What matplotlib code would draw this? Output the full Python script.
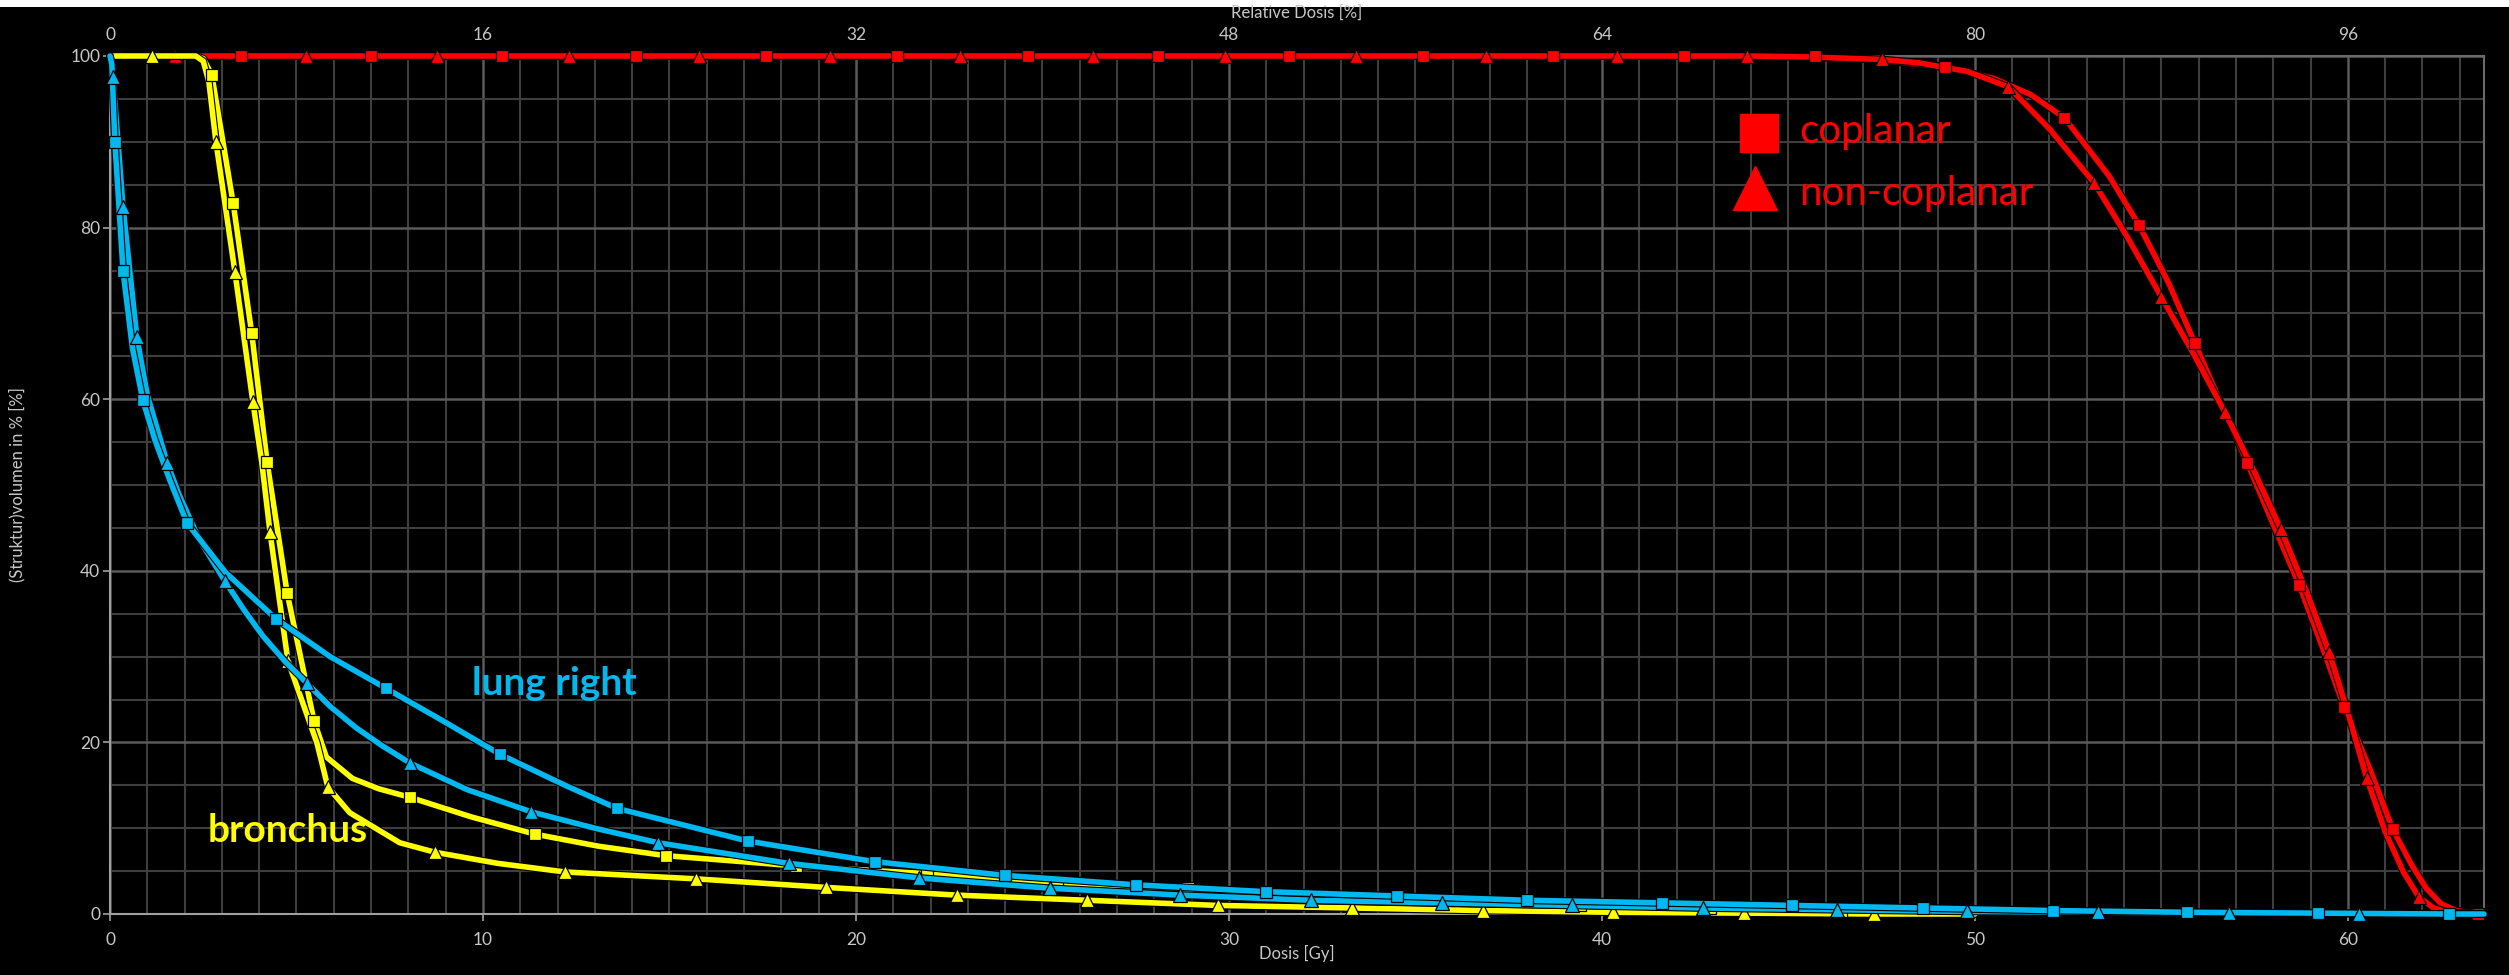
import numpy as np
import matplotlib
matplotlib.use("Agg")
import matplotlib.pyplot as plt
import matplotlib.patheffects as pe
from matplotlib.patches import Rectangle
from matplotlib.ticker import MultipleLocator

plt.rcParams['font.family'] = ['Lato', 'DejaVu Sans']

# ---- data (dose in Gy, volume in %) ----
prescription = 62.5  # Gy that equals 100 % relative dose

# PTV, coplanar (squares)
ptv_co_d = [0, 47.5, 50.5, 51.5, 53.6, 55.2, 56.6, 58.0, 59.3, 60.6, 61.7, 62.1, 62.5, 62.9]
ptv_co_v = [100, 99.5, 97.4, 95.5, 86.0, 73.5, 59.5, 45.4, 31.3, 16.8, 5.8, 3.0, 1.2, 0.4]
ptv_co_md = [3.5, 7.0, 10.5, 14.1, 17.6, 21.1, 24.6, 28.1, 31.6, 35.2, 38.7, 42.2, 45.7,
             49.2, 52.4, 54.4, 55.9, 57.3, 58.7, 59.9, 61.2, 63.5]
ptv_co_mv = [100, 100, 100, 100, 100, 100, 100, 100, 100, 100, 100, 100, 100,
             98.7, 92.8, 80.3, 66.5, 52.6, 38.3, 24.1, 9.9, 0]

# PTV, non-coplanar (triangles)
ptv_nc_d = [0, 45.5, 48.5, 49.8, 52.0, 54.1, 55.9, 57.5, 58.9, 60.0, 61.0, 61.5, 62.3, 62.7, 63.5]
ptv_nc_v = [100, 99.9, 99.2, 98.2, 91.5, 78.8, 65.0, 51.5, 37.5, 23.5, 9.6, 4.8, 0.7, 0.2, 0]
ptv_nc_md = [1.73, 5.25, 8.77, 12.3, 15.8, 19.3, 22.8, 26.35, 29.9, 33.4, 36.9, 40.4, 43.9,
             47.5, 50.9, 53.2, 55.0, 56.7, 58.2, 59.5, 60.5, 61.9]
ptv_nc_mv = [100, 100, 100, 100, 100, 100, 100, 100, 100, 100, 100, 100, 100,
             99.6, 96.4, 85.2, 71.9, 58.5, 44.9, 30.5, 15.9, 2.0]

# bronchus, coplanar
br_co_d = [0, 2.3, 2.5, 5.8, 6.5, 7.2, 9.7, 13.1, 49.9]
br_co_v = [100, 100, 99.7, 18.3, 15.8, 14.6, 11.3, 7.9, 0.0]
br_co_md = [2.73, 3.30, 3.80, 4.21, 4.75, 5.47, 8.04, 11.4, 14.9, 18.4, 21.9, 25.4, 28.9,
            32.4, 35.9, 39.4, 42.9, 46.4]
br_co_mv = [97.8, 82.9, 67.7, 52.7, 37.4, 22.5, 13.6, 9.3, 6.8, 5.6, 4.7, 3.6, 3.0,
            2.2, 1.6, 1.1, 0.7, 0.3]

# bronchus, non-coplanar
br_nc_d = [0, 2.3, 2.5, 2.65, 4.07, 5.55, 6.43, 7.77, 10.4, 50.0]
br_nc_v = [100, 100, 99.4, 97.0, 52.6, 19.9, 11.8, 8.3, 5.9, 0.0]
br_nc_md = [1.13, 2.84, 3.35, 3.83, 4.29, 4.77, 5.84, 8.71, 12.2, 15.7, 19.2, 22.7, 26.2,
            29.7, 33.3, 36.8, 40.3, 43.8, 47.3]
br_nc_mv = [100, 90.0, 74.8, 59.7, 44.5, 29.5, 14.8, 7.2, 4.9, 4.1, 3.1, 2.2, 1.6,
            1.0, 0.7, 0.4, 0.2, 0.1, 0.0]

# lung right, coplanar
lu_co_d = [0, 0.05, 0.6, 1.2, 1.6, 3.1, 5.9, 8.93, 12.25, 63.65]
lu_co_v = [100, 99.0, 66.0, 55.3, 50.6, 39.8, 30.0, 22.5, 14.9, 0.0]
lu_co_md = [0.13, 0.35, 0.88, 2.06, 4.45, 7.40, 10.46, 13.6, 17.1, 20.5, 24.0, 27.5, 31.0,
            34.5, 38.0, 41.6, 45.1, 48.6, 52.1, 55.7, 59.2, 62.7]
lu_co_mv = [90.0, 74.9, 59.9, 45.6, 34.4, 26.3, 18.6, 12.3, 8.5, 6.1, 4.5, 3.4, 2.6,
            2.1, 1.6, 1.3, 1.0, 0.7, 0.4, 0.2, 0.1, 0.0]

# lung right, non-coplanar
lu_nc_d = [0, 1.0, 1.85, 2.4, 3.6, 4.1, 4.7, 5.9, 6.6, 7.3, 9.57, 13.0, 63.65]
lu_nc_v = [100, 60.5, 48.9, 43.6, 35.4, 32.4, 29.4, 24.2, 21.7, 19.6, 14.5, 10.0, 0.0]
lu_nc_md = [0.08, 0.35, 0.72, 1.53, 3.08, 5.28, 8.04, 11.3, 14.7, 18.2, 21.7, 25.2, 28.7,
            32.2, 35.7, 39.2, 42.7, 46.3, 49.8, 53.3, 56.8, 60.3]
lu_nc_mv = [97.5, 82.4, 67.2, 52.6, 38.8, 26.9, 17.6, 11.9, 8.3, 5.9, 4.2, 3.0, 2.2,
            1.6, 1.3, 1.0, 0.7, 0.5, 0.3, 0.2, 0.1, 0.05]

RED = '#ff0000'
YELLOW = '#ffff00'
CYAN = '#00b8f0'
GRID = '#3e3e3e'
TXT = '#c8c8c8'


def draw_dvh(ax, cd, cv, md, mv, color, marker, ms, z):
    # line runs through shape points and marker points together
    d = np.concatenate([cd, md])
    v = np.concatenate([cv, mv])
    order = np.lexsort((-v, d))
    ax.plot(d[order], v[order], color=color, lw=4.0, zorder=z, clip_on=False,
            solid_joinstyle='round', solid_capstyle='round',
            path_effects=[pe.Stroke(linewidth=5.6, foreground='black'), pe.Normal()])
    ax.plot(md, mv, ls='none', marker=marker, ms=ms, mfc=color, mec='black',
            mew=0.9, zorder=z + 0.5, clip_on=False)


fig = plt.figure(figsize=(25.09, 9.75), dpi=100, facecolor='black')
ax = fig.add_axes([110 / 2509, 1 - 914 / 975, 2374 / 2509, 858 / 975])
ax.set_facecolor('black')

ax.set_xlim(0, 63.65)
ax.set_ylim(0, 100)
ax.xaxis.set_major_locator(MultipleLocator(10))
ax.xaxis.set_minor_locator(MultipleLocator(1))
ax.yaxis.set_major_locator(MultipleLocator(20))
ax.yaxis.set_minor_locator(MultipleLocator(5))
ax.grid(which='minor', color=GRID, lw=1.5, zorder=0)
ax.grid(which='major', color='#5a5a5a', lw=1.8, zorder=0)
ax.set_axisbelow(True)

for s in ax.spines.values():
    s.set_color('#6a6a6a')
    s.set_linewidth(1.5)
ax.spines['left'].set_color('#a0a0a0')
ax.spines['bottom'].set_color('#a0a0a0')

ax.tick_params(which='major', colors='#a0a0a0', labelcolor=TXT, labelsize=12.5,
               length=5, width=1.2)
ax.tick_params(axis='x', which='major', pad=8)
ax.tick_params(axis='y', which='major', pad=2)
ax.tick_params(which='minor', length=0)

top = ax.secondary_xaxis('top', functions=(lambda d: d / prescription * 100,
                                            lambda r: r * prescription / 100))
top.set_xticks([0, 16, 32, 48, 64, 80, 96])
top.tick_params(length=0, pad=9, labelcolor=TXT, labelsize=12.5)
top.spines['top'].set_color('#6a6a6a')

draw_dvh(ax, ptv_co_d, ptv_co_v, ptv_co_md, ptv_co_mv, RED, 's', 8.5, 3)
draw_dvh(ax, ptv_nc_d, ptv_nc_v, ptv_nc_md, ptv_nc_mv, RED, '^', 9.5, 3.2)
draw_dvh(ax, br_co_d, br_co_v, br_co_md, br_co_mv, YELLOW, 's', 8.5, 4)
draw_dvh(ax, br_nc_d, br_nc_v, br_nc_md, br_nc_mv, YELLOW, '^', 9.5, 4.2)
draw_dvh(ax, lu_nc_d, lu_nc_v, lu_nc_md, lu_nc_mv, CYAN, '^', 9.5, 5)
draw_dvh(ax, lu_co_d, lu_co_v, lu_co_md, lu_co_mv, CYAN, 's', 8.5, 5.2)

# structure labels
ax.text(9.7, 25.5, 'lung right', color=CYAN, fontsize=28, fontweight='bold',
        ha='left', va='baseline', zorder=8)
ax.text(2.63, 8.4, 'bronchus', color=YELLOW, fontsize=28, fontweight='bold',
        ha='left', va='baseline', zorder=8)

# legend drawn by hand
ax.plot([44.2], [91.0], ls='none', marker='s', ms=27, color=RED, zorder=8)
ax.plot([44.1], [84.6], ls='none', marker='^', ms=32, color=RED, zorder=8)
ax.text(45.3, 89.9, 'coplanar', color=RED, fontsize=29, ha='left', va='baseline', zorder=8)
ax.text(45.3, 82.6, 'non-coplanar', color=RED, fontsize=29, ha='left', va='baseline', zorder=8)

# axis titles
fig.text(1297 / 2509, 1 - 953 / 975, 'Dosis [Gy]', color=TXT, fontsize=12,
         ha='center', va='center')
fig.text(1297 / 2509, 1 - 13 / 975, 'Relative Dosis [%]', color=TXT, fontsize=12,
         ha='center', va='center')
fig.text(17 / 2509, 1 - 485 / 975, '(Struktur)volumen in % [%]', color=TXT, fontsize=12,
         ha='center', va='center', rotation=90)

# thin white strip along the top edge
fig.patches.append(Rectangle((0, 1 - 7 / 975), 1, 7 / 975, transform=fig.transFigure,
                             facecolor='white', edgecolor='none'))

fig.savefig('out.png', dpi=100, facecolor='black')
